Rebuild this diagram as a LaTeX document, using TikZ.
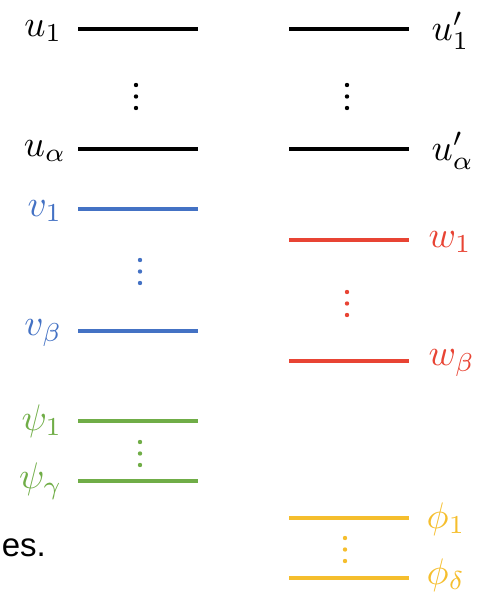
\documentclass[tikz,border=0pt]{standalone}
\usepackage{fontspec}
\newfontfamily\arialfont{Liberation Sans}
\definecolor{lvblue}{RGB}{68,114,196}
\definecolor{lvred}{RGB}{232,68,52}
\definecolor{lvgreen}{RGB}{112,173,71}
\definecolor{lvgold}{RGB}{245,190,45}

\begin{document}
\begin{tikzpicture}[
			x=1pt, y=-1pt,
			level/.style={line width=3.2pt},
			lbl_left/.style={anchor=east, inner sep=0pt, scale=3.7},
			lbl_right/.style={anchor=west, inner sep=0pt, scale=3.7},
			dot/.style={circle, fill, inner sep=0pt, minimum size=4.4pt}
		]
		\useasboundingbox (0,0) rectangle (487,593);

		% --- COLONNA SINISTRA ---
		\node (u1) [lbl_left] at (63,31) {$u_1$};
		\node (ua) [lbl_left] at (67,151) {$u_\alpha$};
		\node (v1) [lbl_left, lvblue] at (63,211) {$v_1$};
		\node (vb) [lbl_left, lvblue] at (63,333) {$v_\beta$};
		\node (p1) [lbl_left, lvgreen] at (63,421) {$\psi_1$};
		\node (pg) [lbl_left, lvgreen] at (63,481) {$\psi_\gamma$};

		% --- COLONNA DESTRA ---
		\node (u1p) [lbl_right] at (431,31) {$u_1'$};
		\node (uap) [lbl_right] at (431,151) {$u_\alpha'$};
		\node (w1) [lbl_right, lvred] at (428,242) {$w_1$};
		\node (wb) [lbl_right, lvred] at (428,363) {$w_\beta$};
		\node (f1) [lbl_right, lvgold] at (426,519) {$\phi_1$};
		\node (fd) [lbl_right, lvgold] at (426,575) {$\phi_\delta$};

		% testo tagliato
		\node (txt) [anchor=east, inner sep=0pt, font=\arialfont\fontsize{33}{38}\selectfont] at (46,548) {es.};

		% --- LIVELLI ---
		\foreach \n/\y in {u1/29, ua/149, v1/209, vb/331, p1/421, pg/481} {
			\coordinate (\n_a) at (78,\y);
			\coordinate (\n_b) at (198,\y);
		}
		\foreach \n/\y in {u1p/29, uap/149, w1/240, wb/361, f1/518, fd/578} {
			\coordinate (\n_a) at (289,\y);
			\coordinate (\n_b) at (409,\y);
		}
		\draw [level] (u1_a) -- (u1_b);
		\draw [level] (ua_a) -- (ua_b);
		\draw [level, lvblue] (v1_a) -- (v1_b);
		\draw [level, lvblue] (vb_a) -- (vb_b);
		\draw [level, lvgreen] (p1_a) -- (p1_b);
		\draw [level, lvgreen] (pg_a) -- (pg_b);

		\draw [level] (u1p_a) -- (u1p_b);
		\draw [level] (uap_a) -- (uap_b);
		\draw [level, lvred] (w1_a) -- (w1_b);
		\draw [level, lvred] (wb_a) -- (wb_b);
		\draw [level, lvgold] (f1_a) -- (f1_b);
		\draw [level, lvgold] (fd_a) -- (fd_b);

		% --- PUNTINI ---
		\foreach \x/\y/\c in {136/85/black, 140/260/lvblue, 140/442/lvgreen, 347/85/black, 347/292/lvred, 345/538/lvgold}
			\foreach \k in {0,1,2}
				\node [dot, \c] at (\x,\y+11.5*\k) {};
	\end{tikzpicture}
\end{document}
